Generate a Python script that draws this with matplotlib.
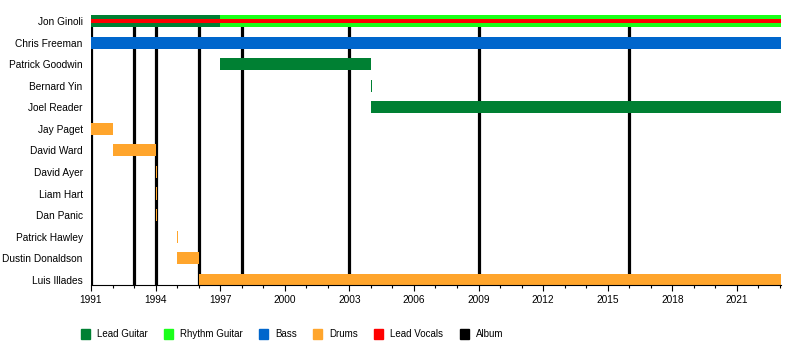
import matplotlib.pyplot as plt
from matplotlib.patches import Patch

plt.rcParams['font.family'] = ['Liberation Sans', 'DejaVu Sans']

# band members, top to bottom
members = ['Jon Ginoli', 'Chris Freeman', 'Patrick Goodwin', 'Bernard Yin',
           'Joel Reader', 'Jay Paget', 'David Ward', 'David Ayer', 'Liam Hart',
           'Dan Panic', 'Patrick Hawley', 'Dustin Donaldson', 'Luis Illades']

# one entry per period
period_member = ['Jon Ginoli', 'Jon Ginoli', 'Chris Freeman', 'Patrick Goodwin',
                 'Bernard Yin', 'Joel Reader', 'Jay Paget', 'David Ward',
                 'David Ayer', 'Liam Hart', 'Dan Panic', 'Patrick Hawley',
                 'Dustin Donaldson', 'Luis Illades']
period_role = ['Lead Guitar', 'Rhythm Guitar', 'Bass', 'Lead Guitar',
               'Lead Guitar', 'Lead Guitar', 'Drums', 'Drums',
               'Drums', 'Drums', 'Drums', 'Drums', 'Drums', 'Drums']
period_start = [1991, 1997, 1991, 1997, 2004, 2004, 1991, 1992,
                1994, 1994, 1994, 1995, 1995, 1996]
period_end = [1997, 2023.05, 2023.05, 2004, 2004.05, 2023.05, 1992, 1994,
              1994.05, 1994.05, 1994.05, 1995.05, 1996, 2023.05]

# lead vocals drawn as a thin stripe
vocal_member = ['Jon Ginoli']
vocal_start = [1991]
vocal_end = [2023.05]

albums = [1991, 1993, 1994, 1996, 1998, 2003, 2009, 2016]

colors = {'Lead Guitar': '#008033', 'Rhythm Guitar': '#1aff1a', 'Bass': '#0066cc',
          'Drums': '#ffa52c', 'Lead Vocals': '#ff0000', 'Album': '#000000'}

fig = plt.figure(figsize=(8, 3.5), dpi=100)
ax = fig.add_axes([0.11375, 0.186, 0.8625, 0.771])

ypos = {m: i for i, m in enumerate(members)}

for x in albums:
    ax.axvline(x, color='black', lw=2.3, zorder=1)

for m, r, s, e in zip(period_member, period_role, period_start, period_end):
    ax.barh(ypos[m], e - s, left=s, height=0.56, color=colors[r], zorder=2)

for m, s, e in zip(vocal_member, vocal_start, vocal_end):
    ax.barh(ypos[m], e - s, left=s, height=0.18, color=colors['Lead Vocals'], zorder=3)

ax.set_xlim(1991, 2023.05)
ax.set_ylim(len(members) - 1 + 0.24, -0.28)
ax.set_yticks(range(len(members)))
ax.set_yticklabels(members, fontsize=7.3)
ax.tick_params(axis='y', length=0, pad=6)

ax.set_xticks(range(1991, 2022, 3))
ax.set_xticks(range(1991, 2024), minor=True)
ax.tick_params(axis='x', which='major', length=4, width=0.8, labelsize=7.3, pad=3)
ax.tick_params(axis='x', which='minor', length=2, width=0.8)

for side in ['top', 'right', 'left']:
    ax.spines[side].set_visible(False)
ax.spines['bottom'].set_linewidth(0.8)

handles = [Patch(color=colors[k]) for k in colors]
fig.legend(handles, list(colors), loc='center left', bbox_to_anchor=(0.09, 0.045),
           ncol=6, frameon=False, handlelength=0.95, handleheight=1.15,
           columnspacing=1.68, handletextpad=0.7,
           prop={'family': ['Liberation Sans Narrow', 'Liberation Sans'], 'size': 7})

fig.savefig('out.png', dpi=100)
